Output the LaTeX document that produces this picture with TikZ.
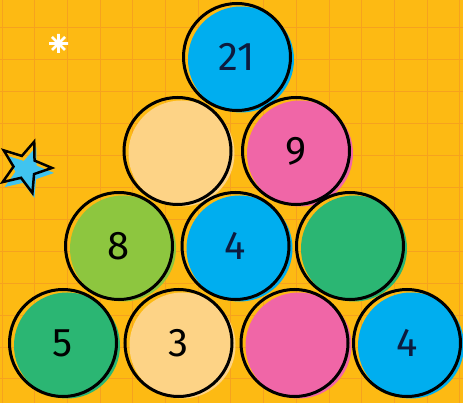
\documentclass[tikz,border=0pt]{standalone}
\usepackage{fontspec}
\setmainfont{Fira Sans}
\definecolor{bgyellow}{RGB}{253,186,19}
\definecolor{gridorange}{RGB}{246,162,30}
\definecolor{ballblue}{RGB}{0,174,239}
\definecolor{ballpink}{RGB}{240,102,167}
\definecolor{ballgreen}{RGB}{43,182,115}
\definecolor{balllime}{RGB}{141,198,63}
\definecolor{ballsand}{RGB}{253,211,134}
\definecolor{starblue}{RGB}{64,196,240}
\definecolor{inkblue}{RGB}{13,27,62}
\tikzset{
  ring/.style={circle, draw=black, line width=3pt, minimum size=107pt, inner sep=0pt,
    font=\fontsize{40}{40}\selectfont, text=black},
  starpath/.style={insert path={(74:27) -- (110:11.5) -- (146:27) -- (182:11.5) -- (218:27)
    -- (254:11.5) -- (290:27) -- (326:11.5) -- (2:27) -- (38:11.5) -- cycle}},
}
\begin{document}
\begin{tikzpicture}[x=1pt, y=-1pt]
    \useasboundingbox (0,0) rectangle (463,403);
    \fill[bgyellow] (0,0) rectangle (463,403);
    \foreach \i in {0,...,14} \draw[gridorange, line width=1pt] (2+32.7*\i,0) -- (2+32.7*\i,403);
    \foreach \j in {0,...,12} \draw[gridorange, line width=1pt] (0,28+31.9*\j-31.9) -- (463,28+31.9*\j-31.9);
    \draw[white, line width=2.6pt] (58.5,34) -- (58.5,53) (49,43.5) -- (68,43.5)
      (52,37) -- (65,50) (52,50) -- (65,37);
    \fill[starblue, shift={(27,172)}] [starpath];
    \draw[black, line width=2.5pt, line join=miter, shift={(25,167)}] [starpath];
    % top row
    \fill[ballblue] (241,59.5) circle (53);
    \node[ring, text=inkblue] (n21) at (237,57) {21};
    % second row
    \fill[ballsand] (181.5,153.5) circle (53);
    \node[ring] (nsand) at (177.5,151) {};
    \fill[ballpink] (300,153.5) circle (53);
    \node[ring] (n9) at (296,151) {9};
    % third row
    \fill[balllime] (123,248.5) circle (53);
    \node[ring] (n8) at (119,246) {8};
    \fill[ballblue] (239.5,248.5) circle (53);
    \node[ring, text=inkblue] (n4mid) at (235.5,246) {4};
    \fill[ballgreen] (354,248.5) circle (53);
    \node[ring] (ngreen) at (350,246) {};
    % bottom row
    \fill[ballgreen] (67,345.5) circle (53);
    \node[ring] (n5) at (63,343) {5};
    \fill[ballsand] (182.5,345.5) circle (53);
    \node[ring] (n3) at (178.5,343) {3};
    \fill[ballpink] (298.5,345.5) circle (53);
    \node[ring] (npink) at (294.5,343) {};
    \fill[ballblue] (411,345.5) circle (53);
    \node[ring, text=inkblue] (n4) at (407,343) {4};
\end{tikzpicture}
\end{document}
